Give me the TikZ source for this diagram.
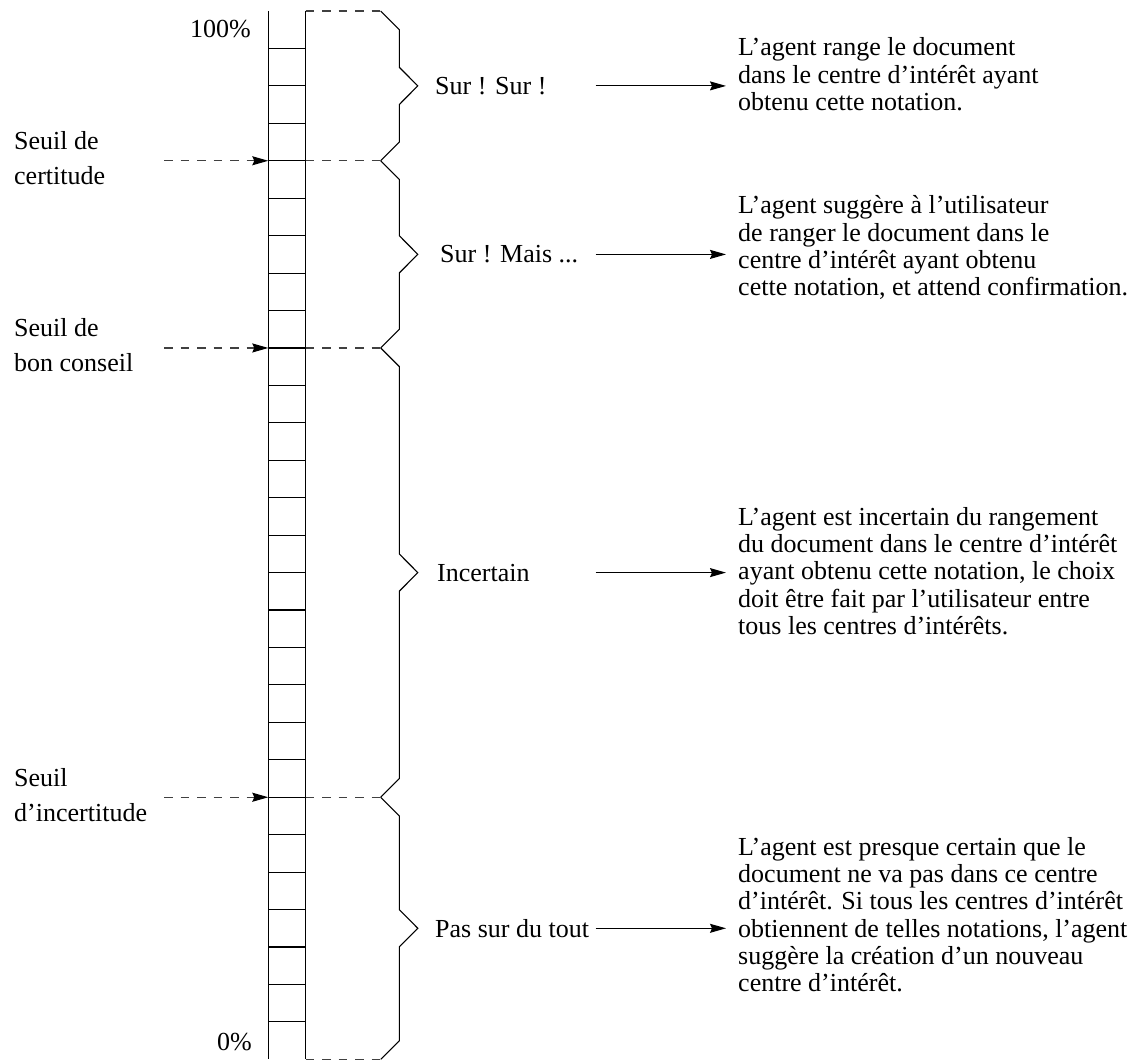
\documentclass[tikz,border=0pt]{standalone}
\usepackage{fontspec}
\setmainfont{Liberation Serif}
\usetikzlibrary{arrows.meta}
\begin{document}
\begin{tikzpicture}[x=1pt,y=-1pt,
  solidline/.style={line width=1.1pt, draw=black},
  dashline/.style={line width=1.1pt, draw=black!75, dash pattern=on 8.5pt off 8pt},
  tip/.style={-{Stealth[length=16pt,width=9pt,inset=2pt,color=black]}},
  arr/.style={line width=1.1pt, tip},
  darr/.style={dashline, tip},
  lbl/.style={inner sep=0pt, font=\fontsize{26}{35}\selectfont, align=left, anchor=west},
  mid/.style={inner sep=0pt, font=\fontsize{26}{30}\selectfont, anchor=west},
  txt/.style={inner sep=0pt, font=\fontsize{26}{27.3}\selectfont, align=left, anchor=north west},
  pct/.style={inner sep=0pt, font=\fontsize{26}{30}\selectfont, anchor=base east},
  ]
\useasboundingbox (0,0) rectangle (1147,1062);

% scale
\draw[solidline] (268.3,11) -- (268.3,1059.32);
\draw[solidline] (305.7,11) -- (305.7,1059.32);
\foreach \k in {1,...,27} {
  \draw[solidline] (268.3,11+\k*37.44) -- (305.7,11+\k*37.44);
}

% threshold coordinates
\coordinate (tA) at (268.3,160.76);
\coordinate (tB) at (268.3,347.96);
\coordinate (tC) at (268.3,797.24);
\coordinate (sA) at (164,160.76);
\coordinate (sB) at (164,347.96);
\coordinate (sC) at (164,797.24);

\draw[darr] (sA) -- (tA);
\draw[darr] (sB) -- (tB);
\draw[darr] (sC) -- (tC);

% labels of scale
\node[pct] (p100) at (251,38) {100\%};
\node[pct] (p0) at (252,1050) {0\%};
\node[lbl] (lA) at (14,158.4) {Seuil de\\certitude};
\node[lbl] (lB) at (14,345.6) {Seuil de\\bon conseil};
\node[lbl] (lC) at (14,794.8) {Seuil\\d’incertitude};

% dashed links to braces
\foreach \y in {11,160.76,347.96,797.24,1059.32} {
  \draw[dashline] (305.7,\y) -- (380.7,\y);
}

% braces
\foreach \ya/\yb in {11/160.76, 160.76/347.96, 347.96/797.24, 797.24/1059.32} {
  \pgfmathsetmacro\ym{(\ya+\yb)/2}
  \draw[solidline, line join=miter] (380.7,\ya) -- (399.3,\ya+18.6) -- (399.3,\ym-18.6)
     -- (417.8,\ym) -- (399.3,\ym+18.6) -- (399.3,\yb-18.6) -- (380.7,\yb);
}

% middle labels
\node[mid] (m1) at (435,85.9) {Sur ! Sur !};
\node[mid] (m2) at (440,254.4) {Sur ! Mais ...};
\node[mid] (m3) at (437,572.6) {Incertain};
\node[mid] (m4) at (435,928.3) {Pas sur du tout};

% right texts
\node[txt] (r1) at (738,37.5) {L’agent range le document\\dans le centre d’intérêt ayant\\obtenu cette notation.};
\node[txt] (r2) at (738,195.5) {L’agent suggère à l’utilisateur\\de ranger le document dans le\\centre d’intérêt ayant obtenu\\cette notation, et attend confirmation.};
\node[txt] (r3) at (738,507) {L’agent est incertain du rangement\\du document dans le centre d’intérêt\\ayant obtenu cette notation, le choix\\doit être fait par l’utilisateur entre\\tous les centres d’intérêts.};
\node[txt] (r4) at (738,837) {L’agent est presque certain que le\\document ne va pas dans ce centre\\d’intérêt. Si tous les centres d’intérêt\\obtiennent de telles notations, l’agent\\suggère la création d’un nouveau\\centre d’intérêt.};

% arrows
\coordinate (a1) at (595.7,85.9);
\coordinate (a2) at (595.7,254.4);
\coordinate (a3) at (595.7,572.6);
\coordinate (a4) at (595.7,928.3);
\draw[arr, shorten >=12pt] (a1) -- (a1 -| r1.west);
\draw[arr, shorten >=12pt] (a2) -- (a2 -| r2.west);
\draw[arr, shorten >=12pt] (a3) -- (a3 -| r3.west);
\draw[arr, shorten >=12pt] (a4) -- (a4 -| r4.west);
\end{tikzpicture}
\end{document}
